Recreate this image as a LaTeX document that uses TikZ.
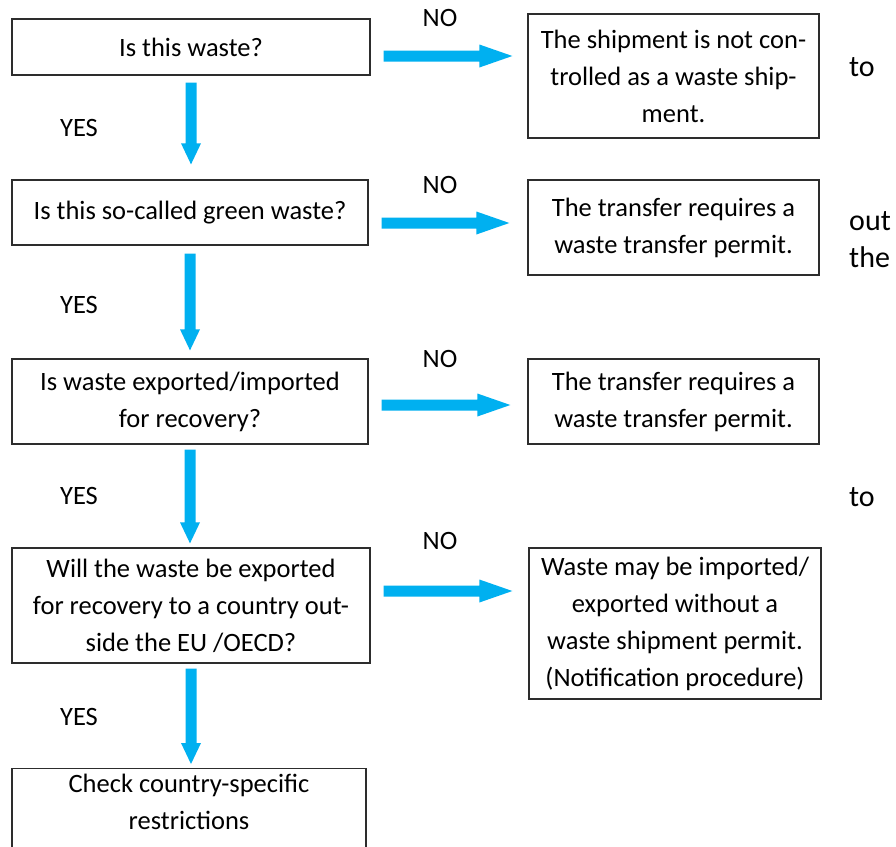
\documentclass[tikz,border=0pt]{standalone}
\usepackage{fontspec}
\setmainfont{Carlito}
\usetikzlibrary{calc}
\definecolor{arrowblue}{RGB}{0,176,240}
\definecolor{boxline}{RGB}{45,45,45}
\begin{document}
\begin{tikzpicture}[x=1pt,y=-1pt,
  every node/.style={font=\fontsize{26.5pt}{37pt}\selectfont, text=black},
  box/.style={draw=boxline, line width=1.3pt, inner sep=0pt, align=center},
  lbl/.style={inner sep=0pt},
  side/.style={inner sep=0pt, anchor=west, align=left, font=\fontsize{30pt}{37pt}\selectfont},
  downarr/.style={to path={let \p1=(\tikztostart), \p2=(\tikztotarget) in
    (\x1-5.5pt,\y1) -- (\x1+5.5pt,\y1) -- (\x1+5.5pt,\y2+21pt) -- (\x1+10pt,\y2+21pt)
    -- (\x1,\y2) -- (\x1-10pt,\y2+21pt) -- (\x1-5.5pt,\y2+21pt) -- cycle}},
  rightarr/.style={to path={let \p1=(\tikztostart), \p2=(\tikztotarget) in
    (\x1,\y1+5.5pt) -- (\x2-33pt,\y1+5.5pt) -- (\x2-33pt,\y1+11.5pt) -- (\x2,\y1)
    -- (\x2-33pt,\y1-11.5pt) -- (\x2-33pt,\y1-5.5pt) -- (\x1,\y1-5.5pt) -- cycle}},
]
\clip (0,0) rectangle (896,846);
\fill[white] (0,0) rectangle (896,846);

% left column
\node[box, minimum width=358pt, minimum height=56pt] (q1) at (191,47) {Is this waste?};
\node[box, minimum width=356pt, minimum height=65pt] (q2) at (190,212.5) {Is this so-called green waste?};
\node[box, minimum width=356pt, minimum height=85pt] (q3) at (190,401.5) {Is waste exported/imported\\for recovery?};
\node[box, minimum width=358pt, minimum height=115pt] (q4) at (191,605.5) {Will the waste be exported\\for recovery to a country out-\\side the EU /OECD?};
\node[box, minimum width=354pt, minimum height=115pt, anchor=north] (q5) at (189,768) {Check country-specific\\restrictions\\\strut};

% right column
\node[box, minimum width=291pt, minimum height=124pt] (r1) at (673.5,76) {The shipment is not con-\\trolled as a waste ship-\\ment.};
\node[box, minimum width=291pt, minimum height=95pt] (r2) at (673.5,227.5) {The transfer requires a\\waste transfer permit.};
\node[box, minimum width=291pt, minimum height=85pt] (r3) at (673.5,401.5) {The transfer requires a\\waste transfer permit.};
\node[box, minimum width=292pt, minimum height=151pt] (r4) at (675,623.5) {Waste may be imported/\\exported without a\\waste shipment permit.\\(Notification procedure)};

% YES / NO labels
\node[lbl] (y1) at (79,128) {YES};
\node[lbl] (y2) at (79,305) {YES};
\node[lbl] (y3) at (79,496) {YES};
\node[lbl] (y4) at (79,717) {YES};
\node[lbl] (n1) at (440,18) {NO};
\node[lbl] (n2) at (440,185) {NO};
\node[lbl] (n3) at (440,359) {NO};
\node[lbl] (n4) at (440,541) {NO};

% stray text at right edge
\node[side] (s1) at (849,67) {to};
\node[side] (s2) at (849,240) {out\\the};
\node[side] (s3) at (849,497) {to};

% down arrows
\fill[arrowblue] ([yshift=-7pt]q1.south) to[downarr] ([yshift=15pt]q2.north);
\fill[arrowblue] ([yshift=-8pt]q2.south) to[downarr] ([yshift=8pt]q3.north);
\fill[arrowblue] ([yshift=-5pt]q3.south) to[downarr] ([yshift=4pt]q4.north);
\fill[arrowblue] ([yshift=-5pt]q4.south) to[downarr] ([yshift=4pt]q5.north);

% right arrows
\fill[arrowblue] ($(q1.east)+(13,9)$) to[rightarr] ([xshift=-15pt]r1.west);
\fill[arrowblue] ($(q2.east)+(13,10.5)$) to[rightarr] ([xshift=-18pt]r2.west);
\fill[arrowblue] ($(q3.east)+(13,3.5)$) to[rightarr] ([xshift=-17pt]r3.west);
\fill[arrowblue] ($(q4.east)+(13,-14.5)$) to[rightarr] ([xshift=-16pt]r4.west);
\end{tikzpicture}
\end{document}
